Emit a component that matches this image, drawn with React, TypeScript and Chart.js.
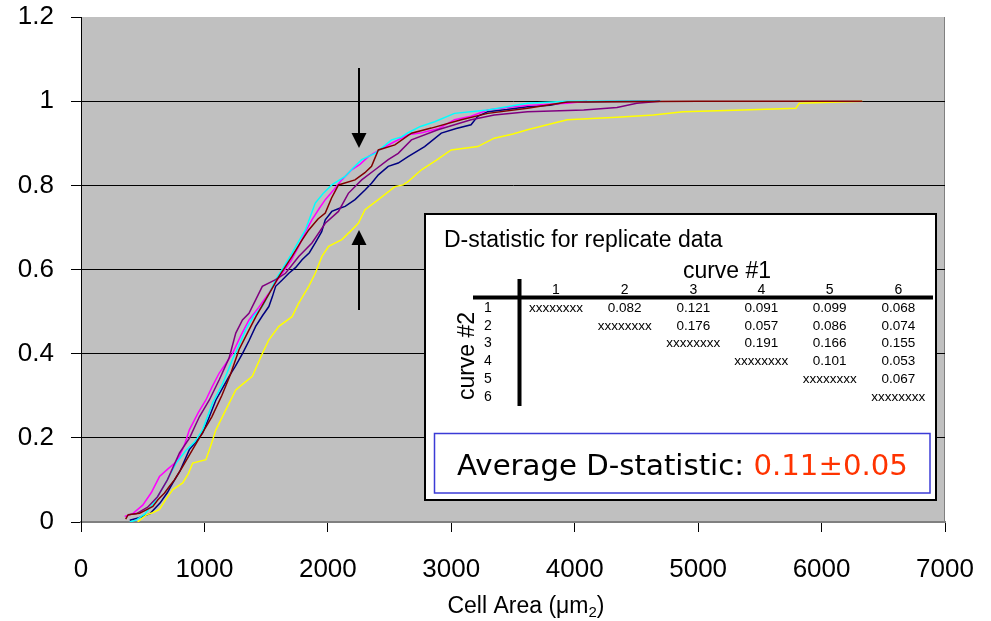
import React, { useEffect, useRef } from 'react';
import { Chart, registerables } from 'chart.js';

Chart.register(...registerables);

// ---------- data ----------
const seriesNames = ['1', '2', '3', '4', '5', '6'];
const seriesColors = ['#000080', '#ff00ff', '#ffff00', '#00ffff', '#800080', '#800000'];

const curve1X = [395, 470, 560, 640, 700, 744, 800, 878, 930, 985, 1040, 1093, 1150, 1200, 1250, 1308, 1360, 1415, 1470, 1522, 1550, 1577, 1630, 1684, 1740, 1791, 1850, 1898, 1950, 1979, 2032, 2090, 2140, 2220, 2301, 2354, 2409, 2489, 2570, 2650, 2784, 2919, 3040, 3160, 3214, 3295, 3450, 3617, 3800, 3939, 4300, 4690];
const curve1Y = [0.004, 0.01, 0.02, 0.045, 0.07, 0.093, 0.12, 0.172, 0.19, 0.211, 0.25, 0.29, 0.32, 0.346, 0.37, 0.40, 0.43, 0.465, 0.49, 0.512, 0.535, 0.56, 0.575, 0.591, 0.605, 0.623, 0.64, 0.663, 0.69, 0.718, 0.738, 0.745, 0.75, 0.766, 0.789, 0.805, 0.825, 0.845, 0.853, 0.868, 0.892, 0.924, 0.935, 0.944, 0.964, 0.975, 0.98, 0.987, 0.99, 0.998, 0.999, 1.0];

const curve2X = [354, 420, 500, 570, 636, 700, 760, 798, 840, 878, 950, 1012, 1060, 1120, 1170, 1227, 1290, 1361, 1440, 1522, 1580, 1630, 1700, 1764, 1820, 1871, 1930, 1979, 2050, 2113, 2193, 2260, 2328, 2420, 2516, 2650, 2760, 2900, 3026, 3160, 3295, 3450, 3617, 3939, 4100];
const curve2Y = [0.013, 0.02, 0.04, 0.07, 0.108, 0.125, 0.14, 0.156, 0.185, 0.219, 0.26, 0.29, 0.32, 0.354, 0.375, 0.40, 0.44, 0.48, 0.51, 0.544, 0.57, 0.591, 0.62, 0.655, 0.69, 0.718, 0.745, 0.766, 0.79, 0.813, 0.837, 0.85, 0.868, 0.885, 0.90, 0.92, 0.925, 0.935, 0.956, 0.964, 0.979, 0.985, 0.99, 0.995, 1.0];

const curve3X = [459, 529, 580, 636, 690, 744, 824, 870, 905, 1012, 1050, 1093, 1174, 1254, 1320, 1388, 1469, 1522, 1603, 1710, 1764, 1845, 1898, 1952, 2006, 2113, 2180, 2247, 2301, 2409, 2543, 2610, 2650, 2758, 2880, 2999, 3214, 3348, 3500, 3617, 3939, 4342, 4637, 4879, 5362, 5792, 5819, 6329];
const curve3Y = [0.0, 0.017, 0.022, 0.03, 0.055, 0.077, 0.093, 0.115, 0.14, 0.148, 0.18, 0.219, 0.267, 0.314, 0.33, 0.346, 0.40, 0.433, 0.465, 0.488, 0.52, 0.56, 0.591, 0.631, 0.655, 0.671, 0.69, 0.71, 0.742, 0.766, 0.797, 0.801, 0.809, 0.837, 0.86, 0.884, 0.892, 0.912, 0.922, 0.932, 0.956, 0.962, 0.967, 0.975, 0.979, 0.983, 0.995, 1.0];

const curve4X = [395, 450, 520, 600, 680, 771, 850, 920, 985, 1066, 1150, 1227, 1280, 1335, 1400, 1469, 1520, 1577, 1640, 1710, 1760, 1818, 1898, 1960, 2032, 2140, 2200, 2274, 2382, 2450, 2516, 2596, 2650, 2750, 2865, 3026, 3295, 3617, 3939, 4700];
const curve4Y = [0.0, 0.005, 0.02, 0.05, 0.09, 0.14, 0.17, 0.19, 0.219, 0.283, 0.33, 0.386, 0.42, 0.457, 0.49, 0.512, 0.54, 0.576, 0.605, 0.639, 0.665, 0.694, 0.758, 0.78, 0.801, 0.821, 0.84, 0.861, 0.876, 0.892, 0.908, 0.915, 0.925, 0.94, 0.951, 0.971, 0.979, 0.995, 1.0, 1.0];

const curve5X = [381, 450, 540, 620, 700, 798, 880, 959, 1040, 1120, 1200, 1254, 1308, 1361, 1415, 1469, 1577, 1657, 1764, 1871, 1979, 2086, 2166, 2274, 2382, 2489, 2570, 2677, 2892, 3160, 3348, 3617, 4073, 4342, 4503, 4690];
const curve5Y = [0.017, 0.02, 0.035, 0.06, 0.10, 0.164, 0.2, 0.25, 0.29, 0.338, 0.39, 0.449, 0.48, 0.496, 0.528, 0.56, 0.576, 0.591, 0.631, 0.663, 0.71, 0.738, 0.781, 0.813, 0.837, 0.861, 0.876, 0.908, 0.932, 0.956, 0.967, 0.975, 0.979, 0.985, 0.995, 1.0];

const curve6X = [362, 381, 475, 529, 582, 623, 677, 717, 757, 820, 900, 980, 1060, 1140, 1210, 1281, 1350, 1420, 1500, 1603, 1710, 1780, 1845, 1920, 1979, 2030, 2086, 2220, 2300, 2354, 2409, 2543, 2677, 2838, 3080, 3295, 3617, 3939, 5000, 6329];
const curve6Y = [0.007, 0.017, 0.021, 0.029, 0.037, 0.053, 0.069, 0.085, 0.10, 0.13, 0.17, 0.21, 0.25, 0.30, 0.35, 0.41, 0.45, 0.49, 0.53, 0.583, 0.631, 0.665, 0.694, 0.72, 0.734, 0.77, 0.801, 0.813, 0.83, 0.845, 0.884, 0.896, 0.924, 0.936, 0.956, 0.971, 0.983, 0.998, 1.0, 1.0];

const curvesX = [curve1X, curve2X, curve3X, curve4X, curve5X, curve6X];
const curvesY = [curve1Y, curve2Y, curve3Y, curve4Y, curve5Y, curve6Y];

const xMin = 0;
const xMax = 7000;
const xStep = 1000;
const yMin = 0;
const yMax = 1.2;
const yStep = 0.2;

const xTitleMain = 'Cell Area (\u03bcm';
const xTitleSub = '2';
const xTitleEnd = ')';

const insetTitle = 'D-statistic for replicate data';
const colHeaderTitle = 'curve #1';
const rowHeaderTitle = 'curve #2';
const tableHeaders = ['1', '2', '3', '4', '5', '6'];
const tableRows = [
  ['xxxxxxxx', '0.082', '0.121', '0.091', '0.099', '0.068'],
  ['', 'xxxxxxxx', '0.176', '0.057', '0.086', '0.074'],
  ['', '', 'xxxxxxxx', '0.191', '0.166', '0.155'],
  ['', '', '', 'xxxxxxxx', '0.101', '0.053'],
  ['', '', '', '', 'xxxxxxxx', '0.067'],
  ['', '', '', '', '', 'xxxxxxxx'],
];
const avgLabel = 'Average D-statistic: ';
const avgValue = '0.11\u00b10.05';

// arrows (data coordinates)
const arrowX = 2255;
const downArrowFromTo = [1.079, 0.889];
const upArrowFromTo = [0.504, 0.694];

const SANS = '"Liberation Sans", Arial, Helvetica, sans-serif';

const bgPlugin = {
  id: 'plotBg',
  beforeDraw(chart: any) {
    const { ctx, chartArea: a } = chart;
    ctx.save();
    ctx.fillStyle = '#ffffff';
    ctx.fillRect(0, 0, chart.width, chart.height);
    ctx.fillStyle = '#c0c0c0';
    ctx.fillRect(a.left, a.top, a.right - a.left, a.bottom - a.top);
    ctx.strokeStyle = '#808080';
    ctx.lineWidth = 1;
    ctx.beginPath();
    ctx.moveTo(a.right - 0.5, a.top);
    ctx.lineTo(a.right - 0.5, a.bottom);
    ctx.stroke();
    ctx.restore();
  },
};

function drawArrow(ctx: any, x: number, yFrom: number, yTo: number) {
  const dir = yTo > yFrom ? 1 : -1;
  const head = 15;
  const hw = 7.5;
  ctx.strokeStyle = '#000';
  ctx.fillStyle = '#000';
  ctx.lineWidth = 2;
  ctx.beginPath();
  ctx.moveTo(x, yFrom);
  ctx.lineTo(x, yTo - dir * head);
  ctx.stroke();
  ctx.beginPath();
  ctx.moveTo(x, yTo);
  ctx.lineTo(x - hw, yTo - dir * head);
  ctx.lineTo(x + hw, yTo - dir * head);
  ctx.closePath();
  ctx.fill();
}

const overlayPlugin = {
  id: 'overlay',
  afterDraw(chart: any) {
    const { ctx, scales } = chart;
    const xs = scales.x;
    const ys = scales.y;
    ctx.save();

    // arrows
    const ax = Math.round(xs.getPixelForValue(arrowX));
    drawArrow(ctx, ax, ys.getPixelForValue(downArrowFromTo[0]), ys.getPixelForValue(downArrowFromTo[1]));
    drawArrow(ctx, ax, ys.getPixelForValue(upArrowFromTo[0]), ys.getPixelForValue(upArrowFromTo[1]));

    // inset box
    const bx = 424, by = 213, bw = 513, bh = 288;
    ctx.fillStyle = '#ffffff';
    ctx.fillRect(bx, by, bw, bh);
    ctx.strokeStyle = '#000';
    ctx.lineWidth = 2;
    ctx.strokeRect(bx + 1, by + 1, bw - 2, bh - 2);

    ctx.fillStyle = '#000';
    ctx.textBaseline = 'alphabetic';
    ctx.textAlign = 'left';
    ctx.font = `23px ${SANS}`;
    ctx.fillText(insetTitle, 444, 247);

    ctx.textAlign = 'center';
    ctx.fillText(colHeaderTitle, 727, 278);

    const colX = [556, 624.7, 693.3, 761.3, 829.7, 898.3];
    ctx.font = `14px ${SANS}`;
    tableHeaders.forEach((h, i) => ctx.fillText(h, colX[i], 294));

    // thick lines
    ctx.lineWidth = 4;
    ctx.beginPath();
    ctx.moveTo(473, 297.5);
    ctx.lineTo(933, 297.5);
    ctx.moveTo(519.5, 279);
    ctx.lineTo(519.5, 406);
    ctx.stroke();

    const rowY = [312.3, 329.5, 347.2, 365.2, 383, 400.7];
    ctx.font = `14px ${SANS}`;
    tableHeaders.forEach((h, i) => ctx.fillText(h, 488, rowY[i]));

    ctx.font = `13.5px ${SANS}`;
    tableRows.forEach((row, r) => {
      row.forEach((v, c) => {
        if (v) ctx.fillText(v, colX[c], rowY[r]);
      });
    });

    // rotated "curve #2"
    ctx.save();
    ctx.translate(474, 356);
    ctx.rotate(-Math.PI / 2);
    ctx.font = `23px ${SANS}`;
    ctx.textAlign = 'center';
    ctx.fillText(rowHeaderTitle, 0, 0);
    ctx.restore();

    // inner blue box
    ctx.strokeStyle = '#3b3bd6';
    ctx.lineWidth = 1.5;
    ctx.strokeRect(434.5, 433.5, 495.5, 59.5);

    // average text fit to width
    const targetW = 451;
    let fs = 30;
    const fam = '"Comic Sans MS", "DejaVu Sans", sans-serif';
    ctx.font = `${fs}px ${fam}`;
    const w0 = ctx.measureText(avgLabel + avgValue).width;
    fs = Math.min(34, fs * targetW / w0);
    ctx.font = `${fs}px ${fam}`;
    const wl = ctx.measureText(avgLabel).width;
    const wv = ctx.measureText(avgValue).width;
    const startX = 682.5 - (wl + wv) / 2;
    ctx.textAlign = 'left';
    ctx.fillStyle = '#000';
    ctx.fillText(avgLabel, startX, 475);
    ctx.fillStyle = '#ff3300';
    ctx.fillText(avgValue, startX + wl, 475);

    // x axis title with subscript
    ctx.fillStyle = '#000';
    ctx.font = `23px ${SANS}`;
    const w1 = ctx.measureText(xTitleMain).width;
    ctx.font = `15px ${SANS}`;
    const w2 = ctx.measureText(xTitleSub).width;
    ctx.font = `23px ${SANS}`;
    const w3 = ctx.measureText(xTitleEnd).width;
    const cx = 526;
    let tx = cx - (w1 + w2 + w3) / 2;
    const base = 613;
    ctx.fillText(xTitleMain, tx, base);
    tx += w1;
    ctx.font = `15px ${SANS}`;
    ctx.fillText(xTitleSub, tx, base + 4);
    tx += w2;
    ctx.font = `23px ${SANS}`;
    ctx.fillText(xTitleEnd, tx, base);

    ctx.restore();
  },
};

export default function App() {
  const ref = useRef<HTMLCanvasElement>(null);

  useEffect(() => {
    document.body.style.margin = '0';
    const canvas = ref.current;
    if (!canvas) return;
    const datasets = curvesX.map((xs, i) => ({
      label: seriesNames[i],
      data: xs.map((x, j) => ({ x, y: curvesY[i][j] })),
      showLine: true,
      borderColor: seriesColors[i],
      backgroundColor: seriesColors[i],
      borderWidth: 1.5,
      pointRadius: 0,
      fill: false,
      tension: 0,
      order: 6 - i,
    }));
    const chart = new Chart(canvas, {
      type: 'scatter',
      data: { datasets },
      options: {
        responsive: false,
        animation: false,
        layout: { padding: { left: 0, right: 46, top: 17, bottom: 0 } },
        plugins: {
          legend: { display: false },
          tooltip: { enabled: false },
          title: { display: false },
        },
        scales: {
          x: {
            type: 'linear',
            min: xMin,
            max: xMax,
            ticks: {
              stepSize: xStep,
              color: '#000',
              padding: 22,
              maxRotation: 0,
              font: { family: SANS, size: 26 },
              callback: (v: any) => String(v),
            },
            grid: {
              drawOnChartArea: false,
              drawTicks: true,
              tickLength: 10,
              tickColor: '#000',
              tickWidth: 1,
            },
            border: { color: '#808080', width: 2 },
            afterFit: (s: any) => {
              s.height = 99;
              s.paddingLeft = 0;
              s.paddingRight = 0;
              s.paddingTop = 0;
              s.paddingBottom = 0;
            },
          },
          y: {
            type: 'linear',
            min: yMin,
            max: yMax,
            ticks: {
              stepSize: yStep,
              color: '#000',
              padding: 17,
              font: { family: SANS, size: 26 },
              callback: (v: any) => String(Math.round(v * 10) / 10),
            },
            grid: {
              color: (c: any) => {
                const v = c.tick ? c.tick.value : 0;
                if (Math.abs(v - yMax) < 1e-6 || Math.abs(v - yMin) < 1e-6) return 'rgba(0,0,0,0)';
                return '#000';
              },
              lineWidth: 1,
              drawTicks: true,
              tickLength: 10,
              tickColor: '#000',
              tickWidth: 1,
            },
            border: { color: '#000', width: 1 },
            afterFit: (s: any) => {
              s.width = 81;
              s.paddingLeft = 0;
              s.paddingRight = 0;
              s.paddingTop = 0;
              s.paddingBottom = 0;
            },
          },
        },
      } as any,
      plugins: [bgPlugin, overlayPlugin],
    });
    return () => chart.destroy();
  }, []);

  return <canvas ref={ref} width={991} height={621} style={{ display: 'block' }} />;
}
